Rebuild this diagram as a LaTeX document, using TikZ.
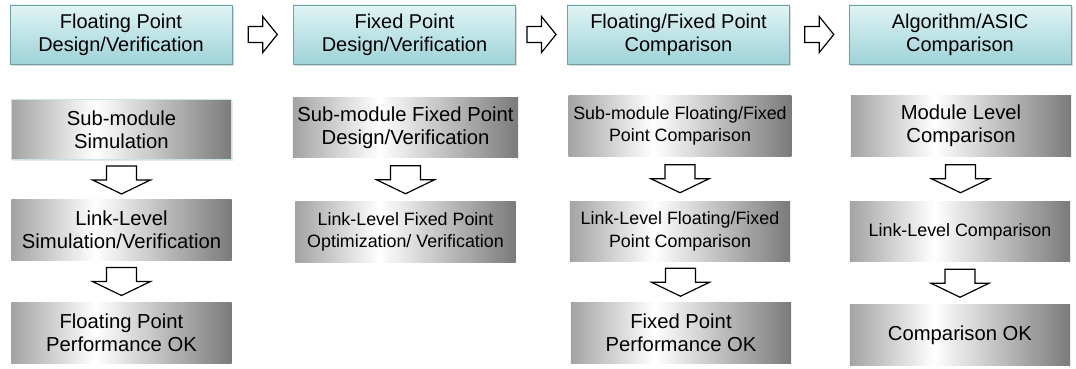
\documentclass[tikz,border=0pt]{standalone}
\usepackage{fontspec}
\setmainfont{Liberation Sans}
\usetikzlibrary{calc,shadows}

\definecolor{cyantop}{RGB}{224,244,245}
\definecolor{cyanbot}{RGB}{158,211,215}
\definecolor{cyanline}{RGB}{112,160,165}
\definecolor{glowline}{RGB}{196,228,232}
\pgfdeclarehorizontalshading{grayglow}{100bp}{color(0bp)=(black!36); color(25bp)=(black!36); color(44bp)=(white); color(75bp)=(black!52); color(100bp)=(black!52)}

\begin{document}
\begin{tikzpicture}[x=0.025cm,y=-0.025cm,
  stage/.style={draw=cyanline,line width=0.4pt,top color=cyantop,bottom color=cyanbot,
    minimum width=55.5mm,minimum height=14.75mm,align=center,
    font=\fontsize{14.2}{16.2}\selectfont,
    drop shadow={shadow xshift=1.2pt,shadow yshift=-1.5pt,opacity=0.3}},
  task/.style={shading=grayglow,minimum width=55mm,minimum height=15mm,align=center,
    font=\fontsize{14.4}{16.5}\selectfont},
  small/.style={font=\fontsize{12.7}{16}\selectfont},
  active/.style={draw=glowline,line width=1pt,
    drop shadow={shadow xshift=1pt,shadow yshift=-1pt,opacity=0.2}},
  blockarr/.style={draw=black,fill=white,line width=0.85pt,line join=miter},
  rarr/.pic={\path[blockarr] (-14.5,-8) -- (0,-8) -- (0,-18) -- (14.5,0) -- (0,18) -- (0,8) -- (-14.5,8) -- cycle;},
  darr/.pic={\path[blockarr] (-15,-14) -- (15,-14) -- (15,0) -- (29,0) -- (0,14) -- (-29,0) -- (-15,0) -- cycle;}]
\useasboundingbox (0,0) rectangle (1076,368);

% stage headers
\node[stage] (fp) at (121,34.5) {Floating Point\\Design/Verification};
\node[stage] (fx) at (404.5,34.5) {Fixed Point\\Design/Verification};
\node[stage] (cmp) at (678.5,34.5) {Floating/Fixed Point\\Comparison};
\node[stage] (asic) at (960,34.5) {Algorithm/ASIC\\Comparison};
\pic at ($(fp.east)!0.5!(fx.west)$) {rarr};
\pic at ($(fx.east)!0.5!(cmp.west)$) {rarr};
\pic at ($(cmp.east)!0.5!(asic.west)$) {rarr};

% floating point column
\node[task,active] (fp1) at (121.5,129.5) {Sub-module\\Simulation};
\node[task] (fp2) at (121.5,230) {Link-Level\\Simulation/Verification};
\node[task] (fp3) at (121.5,333) {Floating Point\\Performance OK};
\pic at ($(fp1.south)!0.5!(fp2.north)$) {darr};
\pic at ($(fp2.south)!0.5!(fp3.north)$) {darr};

% fixed point column
\node[task] (fx1) at (405.5,127.5) {Sub-module Fixed Point\\Design/Verification};
\node[task,small] (fx2) at (405.5,232) {Link-Level Fixed Point\\Optimization/ Verification};
\pic at ($(fx1.south)!0.5!(fx2.north)$) {darr};

% comparison column
\node[task,small] (cmp1) at (680,126) {Sub-module Floating/Fixed\\Point Comparison};
\node[task,small] (cmp2) at (680,231.5) {Link-Level Floating/Fixed\\Point Comparison};
\node[task] (cmp3) at (681,333) {Fixed Point\\Performance OK};
\pic at ($(cmp1.south)!0.5!(cmp2.north)$) {darr};
\pic at ($(cmp2.south)!0.5!(cmp3.north)$) {darr};

% asic column
\node[task] (asic1) at (961,126) {Module Level\\Comparison};
\node[task,small] (asic2) at (960,231.5) {Link-Level Comparison};
\node[task] (asic3) at (960,335) {Comparison OK};
\pic at ($(asic1.south)!0.5!(asic2.north)$) {darr};
\pic at ($(asic2.south)!0.5!(asic3.north)$) {darr};
\end{tikzpicture}
\end{document}
